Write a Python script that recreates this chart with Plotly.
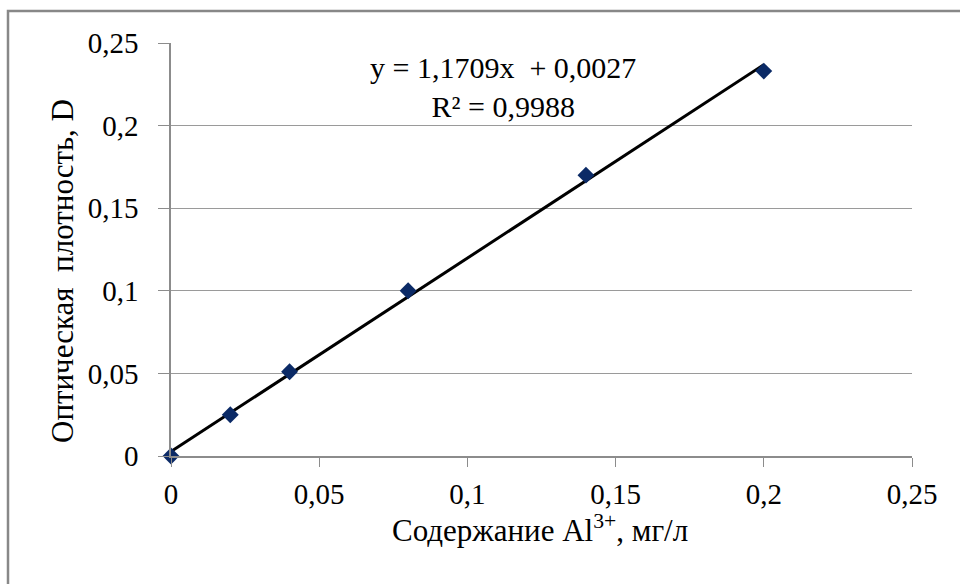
import plotly.graph_objects as go

x_vals = [0, 0.02, 0.04, 0.08, 0.14, 0.2]
y_vals = [0, 0.025, 0.051, 0.1, 0.17, 0.233]
slope = 1.1709
intercept = 0.0027
trend_x = [0, 0.2]
tick_vals = [0, 0.05, 0.1, 0.15, 0.2, 0.25]
tick_text = ["0", "0,05", "0,1", "0,15", "0,2", "0,25"]

trend_y = [slope * v + intercept for v in trend_x]

FONT = "Liberation Serif"

fig = go.Figure()
fig.add_trace(go.Scatter(x=trend_x, y=trend_y, mode="lines",
                         line=dict(color="black", width=3), showlegend=False,
                         cliponaxis=False))
fig.add_trace(go.Scatter(x=x_vals, y=y_vals, mode="markers",
                         marker=dict(symbol="diamond", size=13, color="#0B2A66"),
                         showlegend=False, cliponaxis=False))

L, R, T, B = 171, 48, 43, 128
W, H = 960, 584
pw = W - L - R
ph = H - T - B

def px(xp):
    return (xp - L) / pw

def py(yp):
    return 1 - (yp - T) / ph

fig.update_layout(
    width=W, height=H,
    margin=dict(l=L, r=R, t=T, b=B),
    paper_bgcolor="white", plot_bgcolor="white",
    font=dict(family=FONT, color="black", size=28),
    xaxis=dict(range=[0, 0.25], tickvals=tick_vals, ticktext=tick_text,
               showgrid=False, zeroline=False, showline=True, linecolor="#8c8c8c",
               linewidth=1.5, ticks="outside", ticklen=9, tickcolor="#8c8c8c",
               ticklabelstandoff=2,
               tickfont=dict(size=29, family=FONT, color="black")),
    yaxis=dict(range=[0, 0.25], tickvals=tick_vals, ticktext=tick_text,
               showgrid=True, gridcolor="#9a9a9a", gridwidth=1.2,
               zeroline=False, showline=True, linecolor="#8c8c8c", linewidth=1.5,
               ticks="outside", ticklen=11, tickcolor="#8c8c8c",
               ticklabelstandoff=14,
               tickfont=dict(size=29, family=FONT, color="black")),
)

# outer border (only left and top visible in reference)
fig.add_shape(type="rect", xref="paper", yref="paper",
              x0=px(8), x1=px(1000), y0=py(640), y1=py(11),
              line=dict(color="#888888", width=2.5), layer="below")

fig.add_annotation(xref="paper", yref="paper", x=px(62), y=py(271),
                   xanchor="center", yanchor="middle",
                   text="Оптическая  плотность, D", textangle=-90, showarrow=False,
                   font=dict(size=31, family=FONT, color="black"))
fig.add_annotation(xref="paper", yref="paper", x=px(540), y=py(528),
                   xanchor="center", yanchor="middle",
                   text="Содержание Al<sup>3+</sup>, мг/л", showarrow=False,
                   font=dict(size=31, family=FONT, color="black"))
fig.add_annotation(xref="paper", yref="paper", x=px(503), y=py(87),
                   xanchor="center", yanchor="middle",
                   text="y = 1,1709x  + 0,0027<br>R² = 0,9988", showarrow=False,
                   font=dict(size=30, family=FONT, color="black"), align="center")

fig.write_html("out.html")
